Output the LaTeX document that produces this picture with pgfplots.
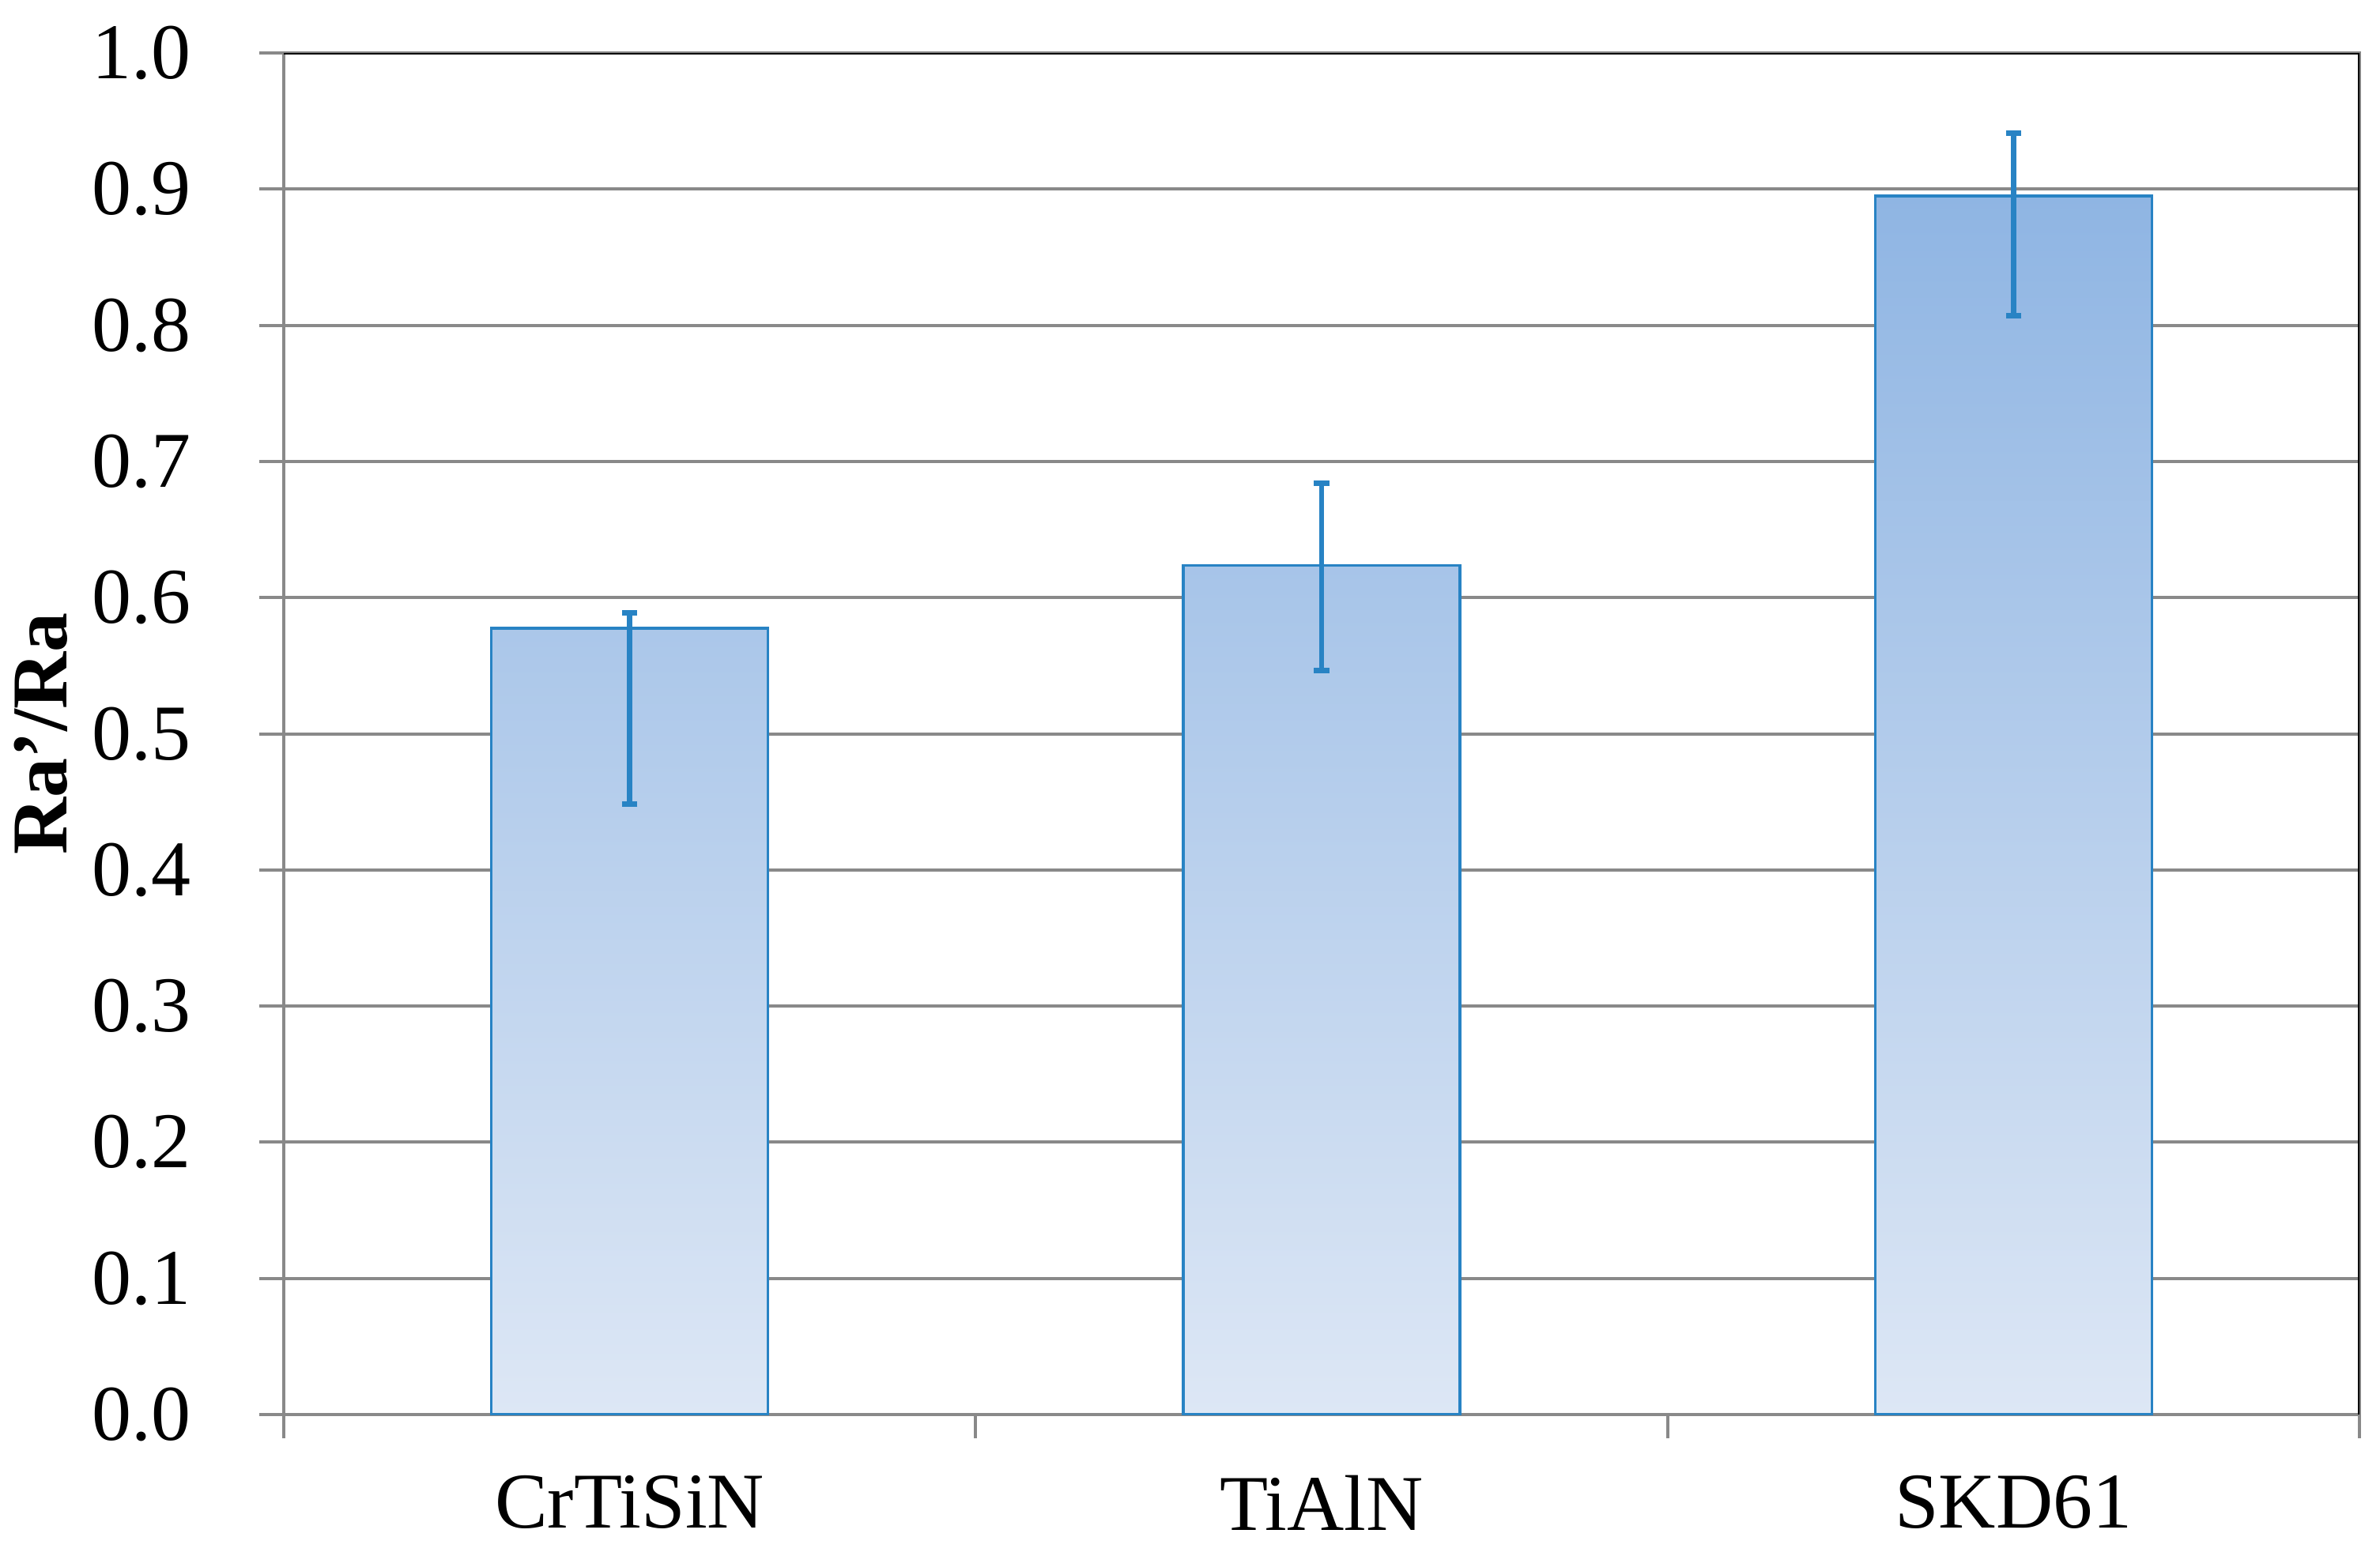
\documentclass[border=0pt]{standalone}
\usepackage{fontspec}
\setmainfont{Liberation Serif}
\usepackage{pgfplots}
\pgfplotsset{compat=1.18}

\definecolor{baredge}{HTML}{2883C4}
\definecolor{bartop}{HTML}{8FB5E3}
\definecolor{barbot}{HTML}{DDE7F5}
\definecolor{gridgray}{HTML}{898989}

\begin{document}
\begin{tikzpicture}
\begin{axis}[
    scale only axis,
    width=393.9pt, height=258.45pt,
    xmin=-0.5, xmax=2.5,
    ymin=0, ymax=1,
    xtick={0,1,2},
    xticklabels={CrTiSiN, TiAlN, SKD61},
    major x tick style={draw=none},
    minor xtick={-0.5,0.5,1.5,2.5},
    minor x tick style={gridgray, line width=0.6pt},
    minor tick length=4.5pt,
    ytick={0,0.1,...,1.0},
    y tick style={gridgray, line width=0.6pt},
    major tick length=4.65pt,
    tick align=outside,
    tick pos=left,
    ymajorgrids,
    major grid style={gridgray, line width=0.6pt},
    axis line style={gridgray, line width=0.6pt},
    yticklabel={\pgfmathprintnumber[fixed, fixed zerofill, precision=1]{\tick}},
    /pgf/number format/assume math mode=true,
    ticklabel style={font=\fontsize{15}{18}\selectfont},
    yticklabel style={anchor=east, inner sep=0pt, xshift=-12.8pt},
    xticklabel style={anchor=north, inner sep=0pt, yshift=-6.7pt},
    ylabel={\textbf{Ra'/Ra}},
    ylabel style={font=\fontsize{15}{18}\selectfont, at={(axis description cs:-0.117,0.5)}, anchor=center},
]
\addplot[ybar, bar width=0.4, draw=baredge, line width=0.5pt,
    top color=bartop, bottom color=barbot,
    error bars/.cd, y dir=both, y explicit,
    error bar style={draw=baredge, line width=1pt},
    error mark options={draw=baredge, line width=1pt, mark size=1.45pt, rotate=90}]
coordinates {
    (0,0.5775) += (0,0.0115) -= (0,0.129)
    (1,0.6235) += (0,0.0605) -= (0,0.077)
    (2,0.895)  += (0,0.046)  -= (0,0.088)
};
\draw[black, line width=0.7pt] (rel axis cs:0,1) -- (rel axis cs:1,1) -- (rel axis cs:1,0);
\end{axis}
\pgfresetboundingbox
\path ([shift={(-53.85pt,-26.7pt)}]current axis.south west) rectangle ([shift={(3.9pt,10.05pt)}]current axis.north east);
\end{tikzpicture}
\end{document}
